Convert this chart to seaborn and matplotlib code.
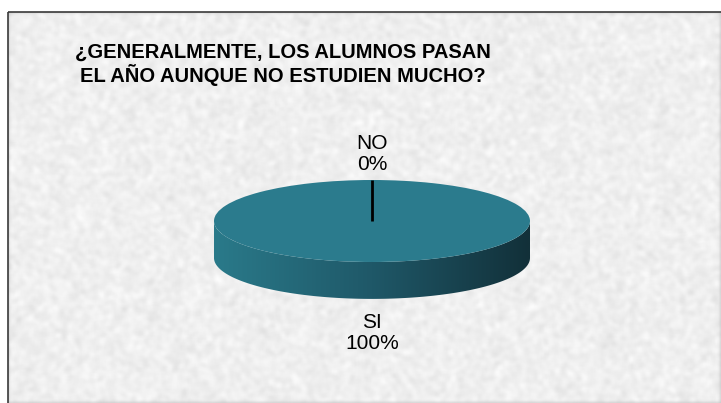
import numpy as np
import seaborn as sns
import matplotlib
matplotlib.use("Agg")
import matplotlib.pyplot as plt
from matplotlib.colors import LinearSegmentedColormap
from matplotlib.patches import Polygon, Rectangle

# data
categories = ["SI", "NO"]
values = [100, 0]
title = "¿GENERALMENTE, LOS ALUMNOS PASAN\nEL AÑO AUNQUE NO ESTUDIEN MUCHO?"

sns.set_theme(style="white")
plt.rcParams["font.family"] = ["Liberation Sans", "DejaVu Sans"]

W, H = 721, 403
fig = plt.figure(figsize=(W / 100, H / 100), dpi=100)
fig.patch.set_facecolor("white")

# textured background panel (decoration only)
bg = fig.add_axes([0, 0, 1, 1])
bg.set_xlim(0, W)
bg.set_ylim(H, 0)
bg.axis("off")
rng = np.random.default_rng(3)
noise = rng.random((H, W))
k = np.ones(5) / 5
for _ in range(2):
    noise = np.apply_along_axis(lambda r: np.convolve(r, k, mode="same"), 1, noise)
    noise = np.apply_along_axis(lambda c: np.convolve(c, k, mode="same"), 0, noise)
noise = (noise - noise.min()) / (noise.max() - noise.min())
tex = 0.79 + 0.20 * noise
bg.imshow(tex, cmap="gray", vmin=0, vmax=1, extent=(8, W, H, 12), interpolation="bilinear")
bg.add_patch(Rectangle((8, 12), W, H, fill=False, edgecolor="#3a3a3a", lw=1.2))

fig.text(283 / W, 1 - 64 / H, title, ha="center", va="center",
         fontsize=14.5, fontweight="bold", color="black", linespacing=1.12)

# pie axes: ellipse centre (372, 221), rx 158, ry 41
cx, cy, rx, ry = 372, 221, 158, 41
left, right, top, bottom = cx - 200, cx + 200, 140, 360
ax = fig.add_axes([left / W, 1 - bottom / H, (right - left) / W, (bottom - top) / H])
depth = 0.9
teal = "#2b7b8d"

wedges, _ = ax.pie(values, colors=[teal, teal], startangle=90, counterclock=False,
                   radius=1, center=(0, 0), wedgeprops=dict(linewidth=0))
for w in wedges:
    w.set_zorder(3)
ax.set_aspect("auto")
ax.axis("off")

# 3D side (front half), gradient left to right
t = np.linspace(np.pi, 2 * np.pi, 200)
upper = np.column_stack([np.cos(t), np.sin(t)])
lower = np.column_stack([np.cos(t[::-1]), np.sin(t[::-1]) - depth])
side = Polygon(np.vstack([upper, lower, [[-1, 0]]]), closed=True,
               facecolor="none", edgecolor="none")
ax.add_patch(side)
cmap = LinearSegmentedColormap.from_list("side", ["#2a7a8a", "#1f5868", "#123039"])
grad = np.linspace(0, 1, 256).reshape(1, -1)
im = ax.imshow(grad, cmap=cmap, extent=(-1, 1, -1 - depth, 0.05), aspect="auto",
               zorder=2, interpolation="bilinear")
im.set_clip_path(side)
ax.set_xlim(-200 / rx, 200 / rx)
ax.set_ylim(-(bottom - cy) / ry, (cy - top) / ry)

# labels and leader lines from wedge angles
total = sum(values)
start = 90.0
for cat, v in zip(categories, values):
    span = 360.0 * v / total
    mid = np.deg2rad(start - span / 2)
    s = np.sin(mid)
    lx = round(np.cos(mid), 6)
    if s >= 0:
        ly = s * 1.63
    else:
        ly = s * 1.83 - depth
    if v == 0:
        ax.plot([np.cos(mid), 0], [np.sin(mid), 0], color="black", lw=2, zorder=4,
                solid_capstyle="butt")
    ax.text(lx, ly, f"{cat}\n{v}%", ha="center", va="center", fontsize=15,
            color="black", linespacing=1.15, zorder=5)
    start -= span

fig.savefig("out.png", dpi=100)
